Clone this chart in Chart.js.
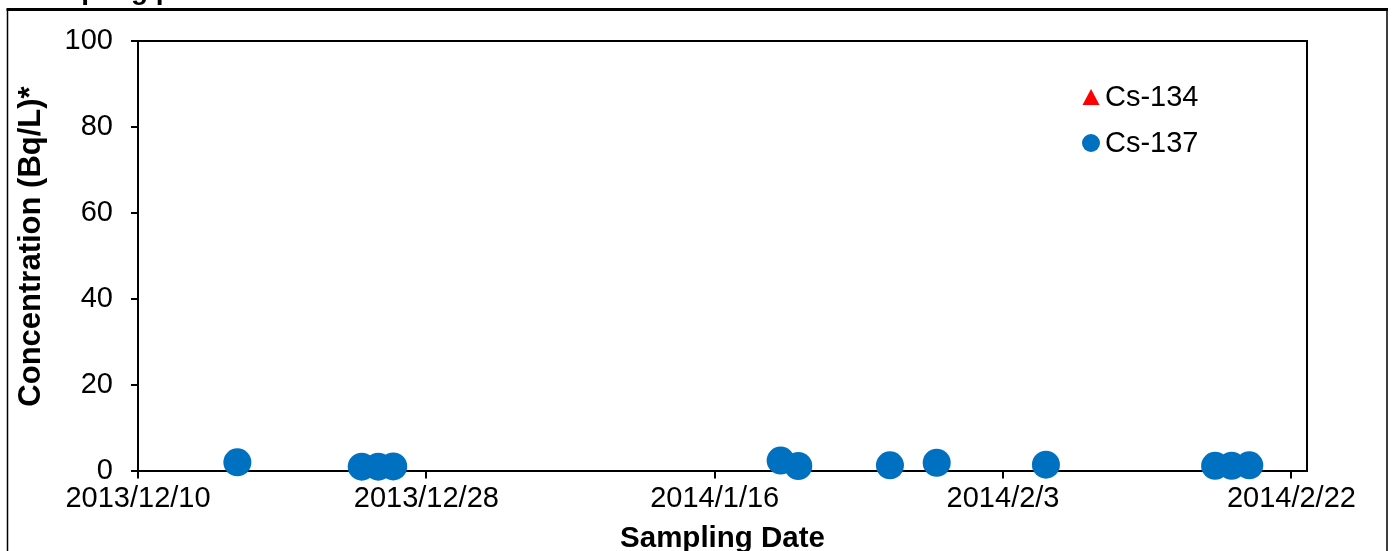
<!DOCTYPE html>
<html>
<head>
<meta charset="utf-8">
<script src="https://cdn.jsdelivr.net/npm/chart.js@4.4.1/dist/chart.umd.min.js"></script>
<style>
html, body { margin: 0; padding: 0; background: #fff; }
#wrap { width: 1393px; height: 551px; }
</style>
</head>
<body>
<div id="wrap"><canvas id="grafico" width="1393" height="551"></canvas></div>
<script>
// sampling dates (with approximate sampling time) and results
const sampleDates = ["2013/12/16 09:00", "2013/12/24 08:30", "2013/12/25 10:00", "2013/12/26 09:00",
  "2014/1/20 05:30", "2014/1/21 08:40", "2014/1/27 05:50", "2014/1/30 05:50",
  "2014/2/6 06:00", "2014/2/17 02:30", "2014/2/18 04:00", "2014/2/19 07:10"];
// Cs-134 below detection limit on every date
const cs134 = [null, null, null, null, null, null, null, null, null, null, null, null];
const cs137 = [1.9, 0.9, 0.9, 0.95, 2.3, 1.05, 1.2, 1.8, 1.35, 1.1, 1.1, 1.2];

const axisStart = "2013/12/10";
const axisDays = 75;
const tickDays = [0, 18.5, 37, 55.5, 74];
const tickLabels = ["2013/12/10", "2013/12/28", "2014/1/16", "2014/2/3", "2014/2/22"];

const FONT = '"Liberation Sans", Arial, sans-serif';

function parseDate(s) {
    const [d, t] = s.split(' ');
    const [y, m, dd] = d.split('/').map(Number);
    let h = 0, mi = 0;
    if (t) [h, mi] = t.split(':').map(Number);
    return Date.UTC(y, m - 1, dd, h, mi);
}
const origin = parseDate(axisStart);
const toDays = s => (parseDate(s) - origin) / 86400000;

const points = vals => sampleDates.map((d, i) => ({ x: toDays(d), y: vals[i] }));

const framePlugin = {
    id: 'frame',
    beforeDraw(chart) {
        const ctx = chart.ctx;
        ctx.save();
        ctx.fillStyle = '#fff';
        ctx.fillRect(0, 0, chart.width, chart.height);
        ctx.restore();
    },
    afterDraw(chart) {
        const ctx = chart.ctx;
        const a = chart.chartArea;
        ctx.save();
        // plot box top / right
        ctx.strokeStyle = '#000';
        ctx.lineWidth = 2;
        ctx.beginPath();
        ctx.moveTo(a.left, a.top);
        ctx.lineTo(a.right, a.top);
        ctx.lineTo(a.right, a.bottom);
        ctx.stroke();

        // outer frame
        ctx.lineWidth = 1.5;
        ctx.beginPath();
        ctx.moveTo(7.5, 9);
        ctx.lineTo(7.5, chart.height);
        ctx.moveTo(1387, 9);
        ctx.lineTo(1387, chart.height);
        ctx.stroke();
        ctx.lineWidth = 3;
        ctx.beginPath();
        ctx.moveTo(6.5, 9.5);
        ctx.lineTo(1388, 9.5);
        ctx.stroke();

        // title, cut off at top of picture
        ctx.fillStyle = '#000';
        ctx.font = 'bold 28px ' + FONT;
        ctx.textBaseline = 'alphabetic';
        ctx.textAlign = 'left';
        ctx.fillText('Sampling point', 22, -1);

        // y axis title
        ctx.save();
        ctx.translate(31, 246.5);
        ctx.rotate(-Math.PI / 2);
        ctx.font = 'bold 31px ' + FONT;
        ctx.textAlign = 'center';
        ctx.textBaseline = 'middle';
        ctx.fillText('Concentration (Bq/L)*', 0, 0);
        ctx.restore();

        // legend
        const items = chart.data.datasets;
        const lx = 1091, ly = [97, 143];
        ctx.font = '29px ' + FONT;
        ctx.textBaseline = 'middle';
        ctx.textAlign = 'left';
        items.forEach((ds, i) => {
            const y = ly[i];
            ctx.fillStyle = ds.pointBackgroundColor;
            ctx.beginPath();
            if (ds.pointStyle === 'triangle') {
                ctx.moveTo(lx, y - 8);
                ctx.lineTo(lx + 8.5, y + 8);
                ctx.lineTo(lx - 8.5, y + 8);
                ctx.closePath();
            } else {
                ctx.arc(lx, y, 9, 0, Math.PI * 2);
            }
            ctx.fill();
            ctx.fillStyle = '#000';
            ctx.fillText(ds.label, 1105, y + 1);
        });
        ctx.restore();
    }
};

new Chart(document.getElementById('grafico'), {
    type: 'scatter',
    data: {
        datasets: [
            {
                label: 'Cs-134',
                data: points(cs134),
                pointStyle: 'triangle',
                pointRadius: 12,
                pointBackgroundColor: '#FF0000',
                pointBorderWidth: 0,
                clip: false
            },
            {
                label: 'Cs-137',
                data: points(cs137),
                pointStyle: 'circle',
                pointRadius: 14,
                pointBackgroundColor: '#0070C0',
                pointBorderColor: '#0070C0',
                pointBorderWidth: 0,
                clip: false
            }
        ]
    },
    options: {
        responsive: false,
        animation: false,
        devicePixelRatio: 1,
        layout: { padding: { top: 41, right: 86, left: 0, bottom: 0 } },
        plugins: {
            legend: { display: false },
            tooltip: { enabled: false }
        },
        scales: {
            x: {
                type: 'linear',
                min: 0,
                max: axisDays,
                afterBuildTicks: s => { s.ticks = tickDays.map(v => ({ value: v })); },
                afterFit: s => { s.height = 80.5; },
                grid: { drawOnChartArea: false, drawTicks: true, tickLength: 8, color: '#000', lineWidth: 2 },
                border: { color: '#000', width: 2 },
                ticks: {
                    color: '#000',
                    font: { family: FONT, size: 29 },
                    padding: 3,
                    maxRotation: 0,
                    autoSkip: false,
                    callback: (v, i) => tickLabels[i]
                },
                title: {
                    display: true,
                    text: 'Sampling Date',
                    color: '#000',
                    font: { family: FONT, size: 29.5, weight: 'bold', lineHeight: 1 },
                    padding: { top: 0, bottom: -3 }
                }
            },
            y: {
                min: 0,
                max: 100,
                afterFit: s => { s.width = 138; },
                grid: { drawOnChartArea: false, drawTicks: true, tickLength: 7, color: '#000', lineWidth: 2 },
                border: { color: '#000', width: 2 },
                ticks: {
                    stepSize: 20,
                    color: '#000',
                    font: { family: FONT, size: 29 },
                    padding: 18
                }
            }
        }
    },
    plugins: [framePlugin]
});
</script>
</body>
</html>
